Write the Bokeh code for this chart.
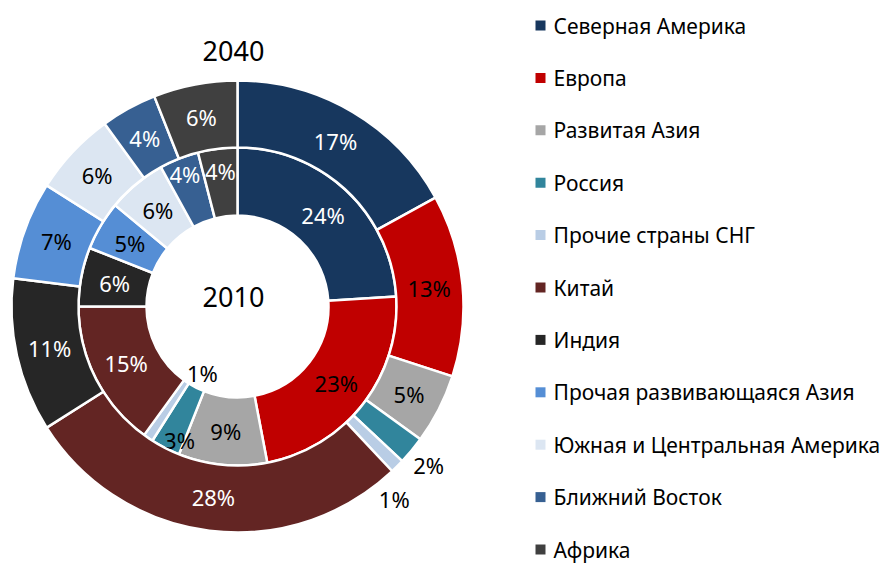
import numpy as np
from bokeh.plotting import figure
from bokeh.models import Range1d, ColumnDataSource
from bokeh.core.properties import value
from bokeh.embed import file_html
from bokeh.resources import INLINE

categories = ["Северная Америка", "Европа", "Развитая Азия", "Россия",
              "Прочие страны СНГ", "Китай", "Индия",
              "Прочая развивающаяся Азия", "Южная и Центральная Америка",
              "Ближний Восток", "Африка"]
share_2010 = [24, 23, 9, 3, 1, 15, 6, 5, 6, 4, 4]
share_2040 = [17, 13, 5, 2, 1, 28, 11, 7, 6, 4, 6]
colors = ["#17375E", "#C00000", "#A6A6A6", "#31859C", "#B9CDE5", "#632523",
          "#262626", "#558ED5", "#DCE6F2", "#376092", "#404040"]
label_colors = ["white", "black", "black", "black", "black", "white",
                "white", "black", "black", "white", "white"]
ring_titles = ["2010", "2040"]

FONT = "Noto Sans"
W, H = 886, 563
p = figure(width=W, height=H, output_backend="svg", toolbar_location=None,
           x_range=Range1d(0, W), y_range=Range1d(0, H),
           min_border=0)
p.axis.visible = False
p.grid.visible = False
p.outline_line_color = None
p.background_fill_color = "white"

def sy(y):
    return 563 - y

cx, cy = 237, sy(306)
r_hole, r_mid, r_out = 91, 159, 226

def ring(vals, r_in, r_outer, lab_over):
    v = np.array(vals, dtype=float)
    frac = v / v.sum()
    cum = np.concatenate([[0], np.cumsum(frac)])
    start = np.pi / 2 - 2 * np.pi * cum[:-1]
    end = np.pi / 2 - 2 * np.pi * cum[1:]
    src = ColumnDataSource(dict(start=start, end=end, color=colors))
    p.annular_wedge(x=cx, y=cy, inner_radius=r_in, outer_radius=r_outer,
                    start_angle="start", end_angle="end", direction="clock",
                    fill_color="color", line_color="white", line_width=2.5,
                    source=src)
    mid = (start + end) / 2
    rr, dd = [], []
    for i in range(len(v)):
        r, d = lab_over.get(i, ((r_in + r_outer) / 2, 0))
        rr.append(r)
        dd.append(np.radians(d))
    rr = np.array(rr)
    ang = mid + np.array(dd)
    lx = cx + rr * np.cos(ang)
    ly = cy + rr * np.sin(ang)
    tc = [("black" if (rr[i] > r_outer or rr[i] < r_in) else label_colors[i])
          for i in range(len(v))]
    lsrc = ColumnDataSource(dict(x=lx, y=ly, t=[f"{int(round(x))}%" for x in v], c=tc))
    p.text(x="x", y="y", text="t", text_color="c", source=lsrc,
           text_align="center", text_baseline="middle",
           text_font=value(FONT), text_font_size="22px")

ring(share_2010, r_hole, r_mid,
     {3: (146, 3.6), 4: (75, 6.3), 9: (143, 0), 10: (137, 0)})
ring(share_2040, r_mid, r_out,
     {3: (248, 0), 4: (248, -5.8)})

# ring titles
p.text(x=[233, 233], y=[sy(296), sy(50)], text=ring_titles,
       text_align="center", text_baseline="middle",
       text_font=value(FONT), text_font_size="27px", text_color="black")

# legend
ly = [sy(25 + 52.4 * i) for i in range(len(categories))]
p.rect(x=[540] * len(categories), y=ly, width=10, height=10,
       fill_color=colors, line_color=None)
p.text(x=[553] * len(categories), y=ly, text=categories,
       text_align="left", text_baseline="middle",
       text_font=value(FONT), text_font_size="21px", text_color="black")

open("out.html", "w").write(file_html(p, INLINE))
